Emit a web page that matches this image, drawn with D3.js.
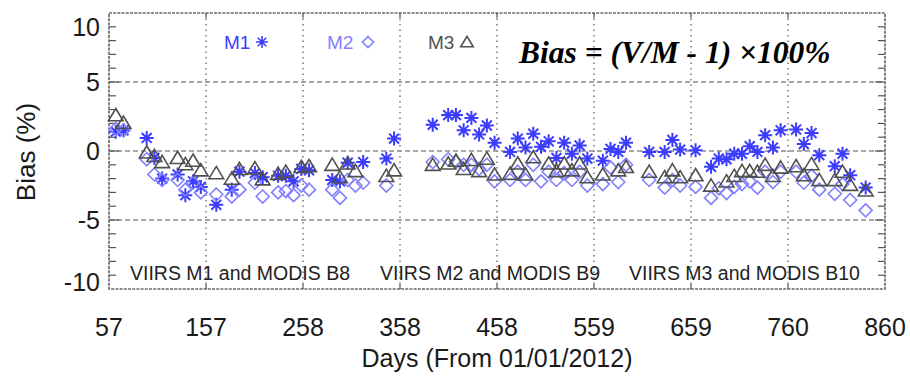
<!DOCTYPE html>
<html>
<head>
<meta charset="utf-8">
<script src="https://cdn.jsdelivr.net/npm/d3@7"></script>
<style>
  html, body { margin: 0; padding: 0; background: #fff; }
  svg { display: block; }
  text { font-family: "Liberation Sans", Arimo, Arial, Helvetica, Roboto, sans-serif; }
  text.formula { font-family: "Liberation Serif", Tinos, "Times New Roman", "DejaVu Serif", serif; }
</style>
</head>
<body>
<svg id="chart" width="910" height="380"></svg>
<script>
// Observation days (days since 01/01/2012)
const days = [
  64, 72, 96, 104, 112, 128, 136, 144, 152, 168, 184, 192, 208, 216, 232, 240, 248, 256, 264, 288, 296, 304, 312, 320, 344, 352,
  392, 408, 416, 424, 432, 440, 448, 456, 472, 480, 488, 496, 504, 512, 520, 528, 536, 544, 552, 568, 576, 584, 592,
  616, 632, 640, 648, 664, 680, 688, 696, 704, 712, 720, 728, 736, 744, 752, 768, 776, 784, 792, 808, 816, 824, 840
];

// Bias (%) for each band
const biasM1 = [
  1.4, 1.5, 0.95, -0.5, -2.0, -1.7, -3.2, -2.2, -2.6, -3.9, -2.8, -1.5, -1.6, -1.9, -1.8, -1.8, -2.2, -1.3, -1.4, -2.1, -2.2, -0.85, null, -0.8, -0.55, 0.9,
  1.9, 2.6, 2.6, 1.5, 2.4, 1.2, 1.85, 0.6, -0.07, 0.9, 0.25, 1.25, 0.3, 0.7, -0.5, 0.6, -0.2, 0.4, -0.55, -0.7, 0.15, -0.07, 0.6,
  -0.07, -0.07, 0.8, 0.1, 0.05, -1.15, -0.55, -0.6, -0.2, -0.2, 0.35, -0.07, 1.15, 0.25, 1.5, 1.55, 0.5, 1.3, -0.3, -1.1, -0.2, -1.75, -2.65
];
const biasM2 = [
  1.6, 1.5, -0.6, -1.7, -2.1, -2.1, -2.8, -2.3, -3.0, -3.15, -3.3, -2.8, -2.3, -3.3, -3.0, -2.9, -3.2, -2.5, -2.8, -2.8, -3.4, -2.1, -2.5, -2.3, -2.5, null,
  -0.8, -0.6, -0.8, -1.0, -1.0, -1.3, -1.0, -2.2, -2.1, -1.5, -2.1, -1.0, -2.2, -1.5, -2.1, -1.6, -2.1, -1.5, -2.5, -2.4, -1.2, -2.25, -1.0,
  -2.1, -2.65, -2.1, -2.5, -2.6, -3.4, -2.7, -3.05, -2.6, -2.4, -2.2, -2.65, -1.5, -2.25, -1.5, -1.5, -2.3, -1.8, -2.8, -3.1, -2.4, -3.55, -4.3
];
const biasM3 = [
  2.6, 2.05, -0.1, -0.35, -0.8, -0.5, -0.95, -0.7, -1.4, -1.6, -2.0, -1.3, -1.25, -2.05, -1.65, -1.5, null, -1.15, -1.1, -1.0, -1.9, -0.9, -1.45, null, -1.8, -1.4,
  -1.0, -0.9, -0.7, -1.3, -0.65, -1.45, -0.55, -1.7, -1.65, -0.9, -1.7, -0.45, null, -0.9, -1.45, -0.9, -1.4, -0.9, -1.9, -1.7, null, -1.4, -1.15,
  -1.5, -1.9, -1.4, -1.9, -1.75, -2.5, null, -2.2, -1.8, -1.45, -1.45, -1.5, -1.0, -1.8, -1.2, -1.1, -1.75, -0.95, -2.1, -2.1, -1.5, -2.45, -2.85
];

// Axis ticks and labels
const xTicks = [57, 157.375, 257.75, 358.125, 458.5, 558.875, 659.25, 759.625, 860];
const xTickLabels = ["57", "157", "258", "358", "458", "559", "659", "760", "860"];
const yTicks = [10, 5, 0, -5, -10];
const yMinorTicks = d3.range(-9, 10);

const legendNames = ["M1", "M2", "M3"];
const bandNotes = ["VIIRS M1 and MODIS B8", "VIIRS M2 and MODIS B9", "VIIRS M3 and MODIS B10"];
const formulaText = "Bias = (V/M - 1) \u00d7100%";
const xTitle = "Days (From 01/01/2012)";
const yTitle = "Bias (%)";

// ---- layout ----
const plotL = 109, plotR = 885, plotT = 13, plotB = 289;
const x = d3.scaleLinear().domain([57, 860]).range([plotL, plotR]);
const y = d3.scaleLinear().domain([-10, 10]).range([plotB, plotT]);

const svg = d3.select("#chart");

const colM1 = "#3c3cff", colM2 = "#8080ff", colM3 = "#505050";

// gridlines
const grid = svg.append("g");
grid.selectAll("line.v").data(xTicks.slice(1, -1)).join("line")
  .attr("x1", d => x(d)).attr("x2", d => x(d))
  .attr("y1", plotT).attr("y2", plotB)
  .attr("stroke", "#777").attr("stroke-width", 1.5)
  .attr("stroke-dasharray", "1.5,4");
grid.selectAll("line.h").data([5, 0, -5]).join("line")
  .attr("x1", plotL).attr("x2", plotR)
  .attr("y1", d => y(d)).attr("y2", d => y(d))
  .attr("stroke", "#8a8a8a").attr("stroke-width", 1.3)
  .attr("stroke-dasharray", "5,3");

// minor / major y ticks on both sides, x ticks on top and bottom
const tickG = svg.append("g").attr("stroke", "#555").attr("stroke-width", 1.2);
yMinorTicks.forEach(v => {
  const len = (v % 5 === 0) ? 10 : 7;
  tickG.append("line").attr("x1", plotL).attr("x2", plotL + len).attr("y1", y(v)).attr("y2", y(v));
  tickG.append("line").attr("x1", plotR).attr("x2", plotR - len).attr("y1", y(v)).attr("y2", y(v));
});
xTicks.slice(1, -1).forEach(v => {
  tickG.append("line").attr("x1", x(v)).attr("x2", x(v)).attr("y1", plotB).attr("y2", plotB - 5);
  tickG.append("line").attr("x1", x(v)).attr("x2", x(v)).attr("y1", plotT).attr("y2", plotT + 5);
});

// frame
svg.append("rect")
  .attr("x", plotL).attr("y", plotT).attr("width", plotR - plotL).attr("height", plotB - plotT)
  .attr("fill", "none").attr("stroke", "#6a6a6a").attr("stroke-width", 1.7)
  .attr("stroke-dasharray", "3,1.2");

// y tick labels (end labels kept inside the frame span)
svg.append("g").selectAll("text").data(yTicks).join("text")
  .attr("x", 100)
  .attr("y", d => Math.max(27, Math.min(282, y(d))))
  .attr("dy", "0.36em")
  .attr("text-anchor", "end")
  .attr("font-size", 25)
  .attr("fill", "#1a1a1a")
  .text(d => d);

// x tick labels
svg.append("g").selectAll("text").data(xTicks).join("text")
  .attr("x", d => x(d))
  .attr("y", 327)
  .attr("dy", "0.36em")
  .attr("text-anchor", "middle")
  .attr("font-size", 25)
  .attr("fill", "#1a1a1a")
  .text((d, i) => xTickLabels[i]);

// axis titles
svg.append("text")
  .attr("x", (plotL + plotR) / 2).attr("y", 358).attr("dy", "0.36em")
  .attr("text-anchor", "middle").attr("font-size", 25).attr("fill", "#1a1a1a")
  .text(xTitle);
svg.append("text")
  .attr("transform", "translate(26,152) rotate(-90)")
  .attr("dy", "0.36em")
  .attr("text-anchor", "middle").attr("font-size", 26).attr("fill", "#1a1a1a")
  .text(yTitle);

// marker shapes
const asterisk = r => {
  const d = r * Math.SQRT1_2;
  return `M0,${-r}L0,${r}M${-r},0L${r},0M${-d},${-d}L${d},${d}M${-d},${d}L${d},${-d}`;
};
const diamond = r => `M0,${-r}L${r},0L0,${r}L${-r},0Z`;
const triangle = r => `M0,${-r * 0.95}L${r * 1.05},${r * 0.8}L${-r * 1.05},${r * 0.8}Z`;

const series = [
  { vals: biasM1, path: asterisk(7), color: colM1, width: 2 },
  { vals: biasM2, path: diamond(6.5), color: colM2, width: 1.6 },
  { vals: biasM3, path: triangle(7), color: colM3, width: 1.6 }
];

series.forEach(s => {
  const pts = days.map((d, i) => ({ d, v: s.vals[i] })).filter(p => p.v !== null);
  svg.append("g").selectAll("path").data(pts).join("path")
    .attr("transform", p => `translate(${x(p.d)},${y(p.v)})`)
    .attr("d", s.path)
    .attr("fill", "none")
    .attr("stroke", s.color)
    .attr("stroke-width", s.width)
    .attr("stroke-linejoin", "miter");
});

// legend
const legendX = [224, 327, 428];
const legendSymX = [262, 368, 467];
const legendCol = [colM1, colM2, colM3];
const legendPaths = [asterisk(6), diamond(5.5), triangle(6)];
legendNames.forEach((n, i) => {
  svg.append("text")
    .attr("x", legendX[i]).attr("y", 42).attr("dy", "0.36em")
    .attr("font-size", 19).attr("fill", legendCol[i])
    .text(n);
  svg.append("path")
    .attr("transform", `translate(${legendSymX[i]},42)`)
    .attr("d", legendPaths[i])
    .attr("fill", "none").attr("stroke", legendCol[i]).attr("stroke-width", 1.6);
});

// formula
svg.append("text")
  .attr("class", "formula")
  .attr("x", 519).attr("y", 63)
  .attr("font-weight", "bold").attr("font-style", "italic")
  .attr("font-size", 31.5).attr("fill", "#000")
  .text(formulaText);

// band notes along the bottom of the plot
const noteX = [130, 380, 629];
bandNotes.forEach((t, i) => {
  svg.append("text")
    .attr("x", noteX[i]).attr("y", 273).attr("dy", "0.36em")
    .attr("font-size", 19.5).attr("fill", "#222")
    .text(t);
});
</script>
</body>
</html>
